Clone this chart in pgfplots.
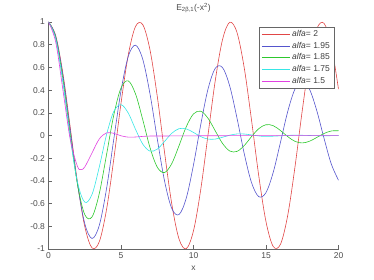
\documentclass[border=0pt]{standalone}
\usepackage{fontspec}
\setmainfont{Liberation Sans}
\usepackage{pgfplots}
\pgfplotsset{compat=1.18}
\definecolor{cR}{RGB}{225,70,70}
\definecolor{cB}{RGB}{85,85,205}
\definecolor{cG}{RGB}{45,200,45}
\definecolor{cC}{RGB}{55,230,230}
\definecolor{cM}{RGB}{225,65,225}
\newcommand{\fs}{\fontsize{8.5}{10}\selectfont}
\begin{document}
\begin{tikzpicture}
\begin{axis}[
  at={(0,0)}, anchor=south west, scale only axis,
  width=290pt, height=227pt,
  xmin=0, xmax=20, ymin=-1, ymax=1,
  axis x line*=bottom, axis y line*=left,
  xtick={0,5,10,15,20}, xticklabels={0,5,10,15,20},
  ytick={-1,-0.8,-0.6,-0.4,-0.2,0,0.2,0.4,0.6,0.8,1},
  yticklabels={-1,-0.8,-0.6,-0.4,-0.2,0,0.2,0.4,0.6,0.8,1},
  tick align=inside, major tick length=3.5pt,
  tick style={black!60, line width=0.5pt},
  axis line style={black!60, line width=0.6pt},
  tick label style={font=\fs, text=black!70},
  xticklabel style={yshift=-0.5pt},
  xlabel={x},
  xlabel style={at={(axis description cs:0.5,0)}, anchor=center, yshift=-19pt, font=\fs, text=black!70},
  title={E\textsubscript{2β,1}(-x\textsuperscript{2})},
  title style={at={(axis description cs:0.5,1)}, anchor=center, yshift=8pt, font=\fs, text=black!70},
  legend style={at={(axis description cs:1,1)}, anchor=north east, xshift=-4.5pt, yshift=-4.7pt,
    draw=black!60, fill=white, font=\fs, text=black!75,
    inner xsep=2pt, inner ysep=1.5pt, row sep=0pt,
    nodes={inner sep=2pt}, cells={anchor=west}},
  legend image code/.code={\draw[#1] (0pt,0pt) -- (28pt,0pt);},
  every axis plot/.append style={line width=0.6pt, smooth, tension=0.55},
]
\addplot[cR] table {
0 1
0.5 0.8776
1 0.5403
1.5 0.0707
2 -0.4161
2.5 -0.8011
3 -0.9900
3.5 -0.9365
4 -0.6536
4.5 -0.2108
5 0.2837
5.5 0.7087
6 0.9602
6.5 0.9766
7 0.7539
7.5 0.3466
8 -0.1455
8.5 -0.6020
9 -0.9111
9.5 -0.9972
10 -0.8391
10.5 -0.4755
11 0.0044
11.5 0.4833
12 0.8439
12.5 0.9978
13 0.9074
13.5 0.5949
14 0.1367
14.5 -0.3549
15 -0.7597
15.5 -0.9785
16 -0.9577
16.5 -0.7024
17 -0.2752
17.5 0.2194
18 0.6603
18.5 0.9395
19 0.9887
19.5 0.7958
20 0.4081
};
\addlegendentry{\textit{alfa}= 2}
\addplot[cB] table {
0 1
0.5 0.8722
1 0.5232
1.5 0.0474
2 -0.4275
2.5 -0.7755
3 -0.9070
3.5 -0.7928
4 -0.4707
4.5 -0.0347
5 0.3931
5.5 0.6961
6 0.7955
6.5 0.6714
7 0.3662
7.5 -0.0283
8 -0.3989
8.5 -0.6428
9 -0.6965
9.5 -0.5522
10 -0.2583
10.5 0.0961
11 0.4085
11.5 0.5917
12 0.5987
12.5 0.4346
13 0.1532
13.5 -0.1602
14 -0.4144
14.5 -0.5388
15 -0.5029
15.5 -0.3235
16 -0.0585
16.5 0.2121
17 0.4097
17.5 0.4799
18 0.4076
18.5 0.2198
19 -0.0239
19.5 -0.2503
20 -0.3938
};
\addlegendentry{\textit{alfa}= 1.95}
\addplot[cG] table {
0 1
0.5 0.8611
1 0.4901
1.5 0.0079
2 -0.4320
2.5 -0.6965
3 -0.7175
3.5 -0.5125
4 -0.1710
4.5 0.1786
5 0.4187
5.5 0.4811
6 0.3670
6.5 0.1393
7 -0.1062
7.5 -0.2790
8 -0.3263
8.5 -0.2479
9 -0.0902
9.5 0.0772
10 0.1903
10.5 0.2140
11 0.1522
11.5 0.0410
12 -0.0696
12.5 -0.1366
13 -0.1403
13.5 -0.0886
14 -0.0101
14.5 0.0601
15 0.0951
15.5 0.0863
16 0.0438
16.5 -0.0100
17 -0.0515
17.5 -0.0656
18 -0.0507
18.5 -0.0174
19 0.0177
19.5 0.0397
20 0.0415
};
\addlegendentry{\textit{alfa}= 1.85}
\addplot[cC] table {
0 1
0.5 0.8499
1 0.4590
1.5 -0.0205
2 -0.4115
2.5 -0.5870
3 -0.5192
3.5 -0.2786
4 0.0057
4.5 0.2109
5 0.2716
5.5 0.1976
6 0.0548
6.5 -0.0757
7 -0.1377
7.5 -0.1203
8 -0.0528
8.5 0.0194
9 0.0602
9.5 0.0583
10 0.0269
10.5 -0.0099
11 -0.0316
11.5 -0.0314
12 -0.0156
12.5 0.0029
13 0.0137
13.5 0.0131
14 0.0050
14.5 -0.0039
15 -0.0084
16 -0.0030
17 0.0031
18 -0.0001
19 -0.0024
20 -0.0004
};
\addlegendentry{\textit{alfa}= 1.75}
\addplot[cM] table {
0 1
0.5 0.8221
1 0.3966
1.5 -0.0346
2 -0.2724
2.25 -0.2996
2.5 -0.2776
3 -0.1537
3.5 -0.0312
4 0.0231
4.5 0.0190
5 -0.0026
5.5 -0.0144
6 -0.0133
6.5 -0.0079
7 -0.0047
7.5 -0.0040
8 -0.0042
9 -0.0035
10 -0.0028
12 -0.0019
14 -0.0014
16 -0.0011
18 -0.0009
20 -0.0007
};
\addlegendentry{\textit{alfa}= 1.5}
\end{axis}
\pgfresetboundingbox
\useasboundingbox (-48.5pt,-31pt) rectangle (325.5pt,249pt);
\end{tikzpicture}
\end{document}
